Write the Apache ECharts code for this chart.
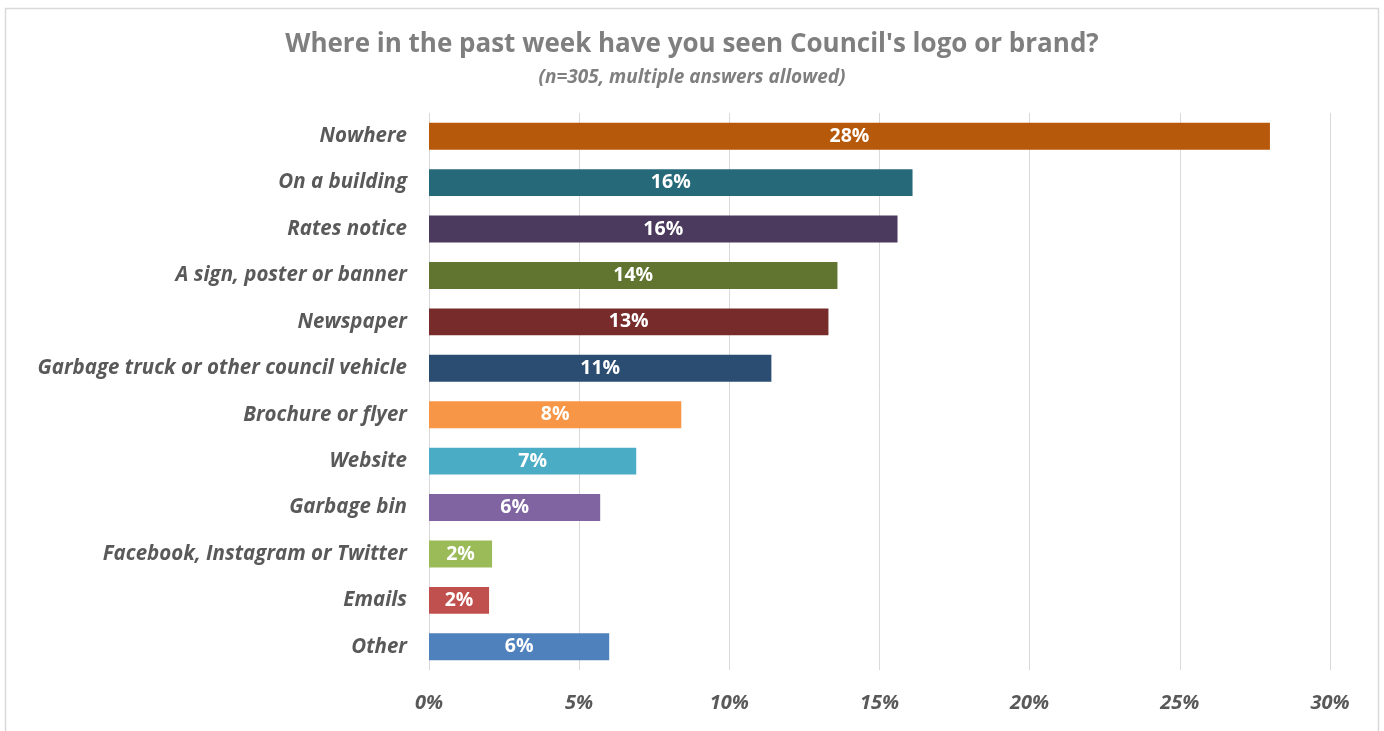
<!DOCTYPE html>
<html>
<head>
<meta charset="utf-8">
<script src="https://cdn.jsdelivr.net/npm/echarts@6/dist/echarts.min.js"></script>
<style>html,body{margin:0;padding:0;background:#fff}#c{width:1384px;height:731px}</style>
</head>
<body>
<div id="c"></div>
<script>
const categories = ["Nowhere","On a building","Rates notice","A sign, poster or banner","Newspaper","Garbage truck or other council vehicle","Brochure or flyer","Website","Garbage bin","Facebook, Instagram or Twitter","Emails","Other"];
const values = [28.0, 16.1, 15.6, 13.6, 13.3, 11.4, 8.4, 6.9, 5.7, 2.1, 2.0, 6.0];
const labels = ["28%","16%","16%","14%","13%","11%","8%","7%","6%","2%","2%","6%"];
const colors = ["#B7590A","#266A7A","#4B3A5E","#617530","#772C2B","#2C4D72","#F79646","#4BACC6","#8064A2","#9BBB59","#C0504D","#4F81BD"];
const xTicks = [0,5,10,15,20,25,30];

const chart = echarts.init(document.getElementById('c'));
const font = '"Open Sans", "Noto Sans", sans-serif';
chart.setOption({
  animation: false,
  graphic: [{type:'rect', shape:{x:5.5,y:8.5,width:1373,height:740}, style:{fill:'none', stroke:'#d9d9d9', lineWidth:1.5}, silent:true}],
  title: [{
    text: "Where in the past week have you seen Council's logo or brand?",
    left: 'center', top: 27,
    textStyle: {fontFamily: font, fontWeight: 'bold', fontSize: 26, color: '#7f7f7f'}
  },{
    text: "(n=305, multiple answers allowed)",
    left: 'center', top: 63,
    textStyle: {fontFamily: font, fontWeight: 'bold', fontStyle: 'italic', fontSize: 19, color: '#7f7f7f'}
  }],
  grid: {left: 429, right: 54, top: 113, bottom: 61, containLabel: false},
  xAxis: {
    type: 'value', min: 0, max: 30, interval: 5,
    axisLine: {show: false}, axisTick: {show: false},
    splitLine: {lineStyle: {color: '#d9d9d9', width: 1}},
    axisLabel: {
      formatter: v => xTicks.includes(v) ? v + '%' : '',
      margin: 23,
      fontFamily: font, fontWeight: 'bold', fontStyle: 'italic', fontSize: 20, color: '#595959'
    }
  },
  yAxis: {
    type: 'category', data: categories, inverse: true,
    axisLine: {show: false}, axisTick: {show: false},
    axisLabel: {margin: 22, fontFamily: font, fontWeight: 'bold', fontStyle: 'italic', fontSize: 20.5, color: '#595959'}
  },
  series: [{
    type: 'bar',
    barCategoryGap: '42%',
    data: values.map((v, i) => ({value: v, itemStyle: {color: colors[i]}})),
    label: {
      show: true, position: 'inside',
      formatter: p => labels[p.dataIndex],
      fontFamily: font, fontWeight: 'bold', fontSize: 19.5, color: '#ffffff'
    }
  }]
});
</script>
</body>
</html>
